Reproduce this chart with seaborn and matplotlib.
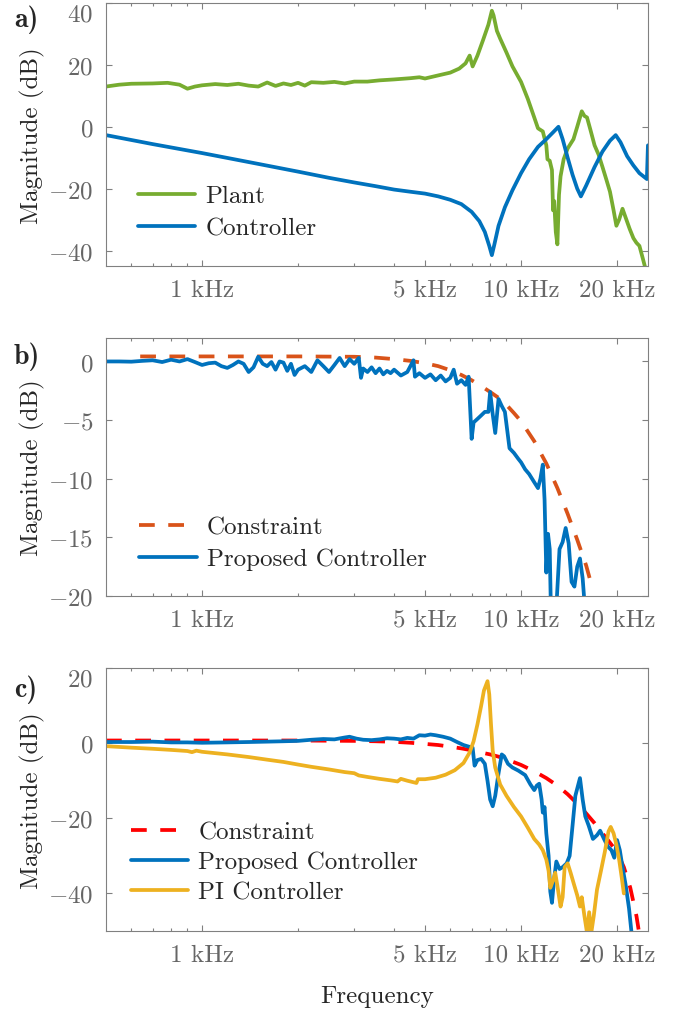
import numpy as np
import pandas as pd
import seaborn as sns
import matplotlib.pyplot as plt

# ---------------- a) plant vs controller ----------------
plant_f = [500, 550, 600, 700, 780, 850, 900, 950, 1000, 1100, 1200, 1300, 1400, 1500,
           1600, 1700, 1800, 1900, 2000, 2100, 2200, 2400, 2600, 2800, 3000, 3300, 3600,
           4000, 4500, 4800, 5000, 5500, 6000, 6400, 6700, 6900, 7050, 7300, 7600, 7900,
           8100, 8200, 8400, 8600, 9000, 9400, 10000, 10500, 11000, 11300, 11700, 12000,
           12100, 12300, 12500, 12600, 12700, 12850, 13000, 13150, 13300, 13600, 14000,
           14600, 15000, 15500, 15800, 16100, 16500, 17000, 17500, 18000, 18500, 19000,
           19500, 19900, 20300, 20800, 21300, 21900, 22500, 23000, 23500, 24000, 24500]
plant_db = [13.0, 13.6, 13.9, 14.0, 14.2, 13.6, 12.3, 13.0, 13.4, 13.8, 13.5, 13.9, 13.3, 13.0,
            14.3, 13.2, 14.0, 13.5, 14.2, 13.3, 14.4, 14.2, 14.5, 14.0, 14.6, 14.6, 15.0,
            15.3, 15.7, 16.0, 15.6, 16.6, 17.5, 18.8, 20.5, 23.0, 19.5, 23.0, 28.0, 33.0,
            37.5, 36.0, 31.0, 28.5, 24.0, 19.5, 14.5, 9.0, 3.0, -0.5, -1.5, -6.0,
            -10.5, -11.0, -14.0, -27.0, -24.0, -34.0, -38.0, -22.0, -16.0, -10.5, -7.0,
            -4.0, 0.0, 5.0, 3.5, 3.0, -1.0, -6.0, -9.0, -13.0, -17.0, -21.0,
            -27.0, -32.0, -30.0, -26.5, -29.5, -33.0, -36.0, -37.5, -38.5, -42.0, -45.5]

ctrl_f = [500, 700, 1000, 1500, 2000, 2500, 3000, 3500, 4000, 4500, 5000, 5500, 6000, 6500,
          7000, 7400, 7700, 7950, 8100, 8250, 8500, 8900, 9400, 10000, 10600, 11300, 12000,
          12600, 13100, 13500, 14000, 14500, 15000, 15400, 16000, 17000, 18000, 19000,
          19800, 20500, 21500, 22500, 23500, 24800, 24990]
ctrl_db = [-2.7, -5.6, -8.5, -12.0, -14.5, -16.5, -18.0, -19.2, -20.3, -21.0, -21.6, -22.5,
           -23.6, -25.0, -27.5, -30.5, -34.0, -38.5, -41.5, -38.0, -32.0, -26.0, -20.5, -15.0,
           -10.5, -6.5, -4.0, -1.8, 0.0, -4.0, -10.0, -15.5, -20.0, -22.5, -19.0, -13.0,
           -8.0, -4.5, -2.7, -5.0, -9.5, -12.5, -15.0, -16.9, -6.0]

# ---------------- b) constraint vs proposed ----------------
cons_b_f = [640, 1000, 2000, 3000, 3500, 4000, 4500, 5000, 5500, 6000, 6500, 7000, 7500,
            8000, 8500, 9000, 9500, 10000, 11000, 12000, 13000, 14000, 15000, 16000, 16800]
cons_b_db = [0.43, 0.43, 0.43, 0.4, 0.33, 0.2, 0.05, -0.15, -0.4, -0.75, -1.15, -1.6, -2.1,
             -2.6, -3.1, -3.7, -4.4, -5.1, -6.8, -8.7, -10.8, -13.0, -15.2, -17.4, -19.5]

prop_b_f = [500, 550, 600, 650, 700, 750, 800, 850, 900, 950, 1000, 1050, 1100, 1150, 1200,
            1250, 1300, 1350, 1400, 1450, 1500, 1550, 1600, 1650, 1700, 1750, 1800, 1850,
            1900, 1950, 2000, 2100, 2200, 2300, 2400, 2500, 2600, 2700, 2800, 2900, 3000,
            3100, 3150, 3200, 3300, 3400, 3500, 3600, 3700, 3800, 3900, 4000, 4200, 4400,
            4600, 4650, 4800, 5000, 5200, 5400, 5600, 5800, 6000, 6150, 6300, 6500, 6700,
            6850, 7000, 7100, 7300, 7500, 7700, 7900, 8000, 8150, 8300, 8500, 8700, 8900,
            9200, 9500, 9800, 10000, 10300, 10600, 11000, 11300, 11500, 11700, 11850, 12000,
            12150, 12300, 12400, 12900, 13200, 13500, 13800, 14100, 14400, 14700, 15000,
            15300, 15600, 15800]
prop_b_db = [0.0, 0.0, -0.02, 0.05, 0.1, -0.05, 0.15, 0.0, 0.2, -0.05, -0.3, -0.15, -0.1, -0.4,
             -0.55, -0.3, 0.0, -0.2, -0.9, -0.5, 0.4, -0.2, -0.4, -0.05, -0.7, 0.0, -0.1, -0.8,
             -0.2, -1.15, -0.7, -0.4, -0.9, 0.1, -0.4, -0.9, -0.3, 0.3, -0.4, 0.2, -0.2,
             0.3, -1.4, -0.6, -0.9, -0.5, -1.0, -0.6, -1.1, -0.8, -1.0, -0.7, -1.2, -0.9,
             0.1, -1.3, -1.0, -1.4, -1.1, -1.6, -1.2, -1.7, -1.4, -0.7, -1.9, -1.6, -2.0,
             -1.3, -6.6, -5.2, -4.9, -4.6, -4.3, -4.3, -2.6, -4.5, -6.1, -3.2, -3.8, -4.3,
             -7.4, -7.8, -8.3, -8.6, -9.2, -9.6, -10.3, -10.8, -10.0, -8.8, -11.8, -18.0,
             -14.7, -16.0, -21.0, -21.0, -16.0, -15.4, -14.2, -15.5, -18.8, -19.2, -17.5,
             -16.8, -18.5, -20.5]

# ---------------- c) constraint, proposed, PI ----------------
cons_c_f = [500, 1000, 2000, 3000, 3500, 4000, 4500, 5000, 5500, 6000, 6500, 7000, 7500,
            8000, 8500, 9000, 10000, 11000, 12000, 13000, 14000, 15000, 16000, 17000, 18000,
            19000, 20000, 21000, 22000, 23000, 23500]
cons_c_db = [0.7, 0.7, 0.7, 0.6, 0.5, 0.35, 0.1, -0.2, -0.5, -0.95, -1.4, -1.9, -2.5,
             -3.0, -3.6, -4.3, -5.8, -7.5, -9.3, -11.3, -13.6, -16.1, -18.7, -21.3, -24.0,
             -26.5, -29.0, -33.0, -38.5, -46.0, -51.0]

prop_c_f = [500, 600, 700, 800, 900, 1000, 1200, 1400, 1600, 1800, 2000, 2200, 2400, 2600,
            2800, 2900, 3050, 3200, 3400, 3600, 3800, 4000, 4200, 4400, 4600, 4800, 5000,
            5200, 5400, 5700, 6000, 6300, 6600, 6900, 7050, 7150, 7300, 7500, 7700, 7850,
            8000, 8150, 8300, 8500, 8700, 8850, 9100, 9400, 9800, 10300, 10700, 11000,
            11200, 11400, 11600, 11700, 11850, 12000, 12200, 12350, 12500, 12700, 12900,
            13200, 13500, 13900, 14200, 14500, 14800, 15300, 15600, 15900, 16300, 16800,
            17300, 17700, 18200, 18700, 19200, 19600, 20000, 20400, 20800, 21300, 21800,
            22200]
prop_c_db = [0.3, 0.3, 0.4, 0.2, 0.2, 0.1, 0.2, 0.3, 0.4, 0.5, 0.6, 0.9, 1.1, 1.0,
             1.5, 1.7, 1.2, 0.9, 0.8, 1.0, 1.3, 1.2, 1.0, 1.4, 1.2, 2.1, 2.0,
             2.3, 2.1, 1.7, 1.2, 0.3, -0.5, -1.0, -1.2, -6.0, -4.5, -4.2, -5.5, -10.0,
             -15.0, -16.8, -14.0, -8.0, -3.0, -3.5, -5.5, -6.5, -7.3, -8.5, -11.0, -12.5,
             -11.3, -10.8, -15.0, -18.5, -17.0, -24.0, -30.0, -39.5, -42.5, -36.0, -31.5,
             -33.5, -33.0, -32.0, -30.0, -22.0, -14.0, -9.3, -15.0, -19.5, -22.0, -25.5,
             -24.5, -23.3, -25.5, -27.5, -28.5, -30.5, -25.8, -28.5, -33.0, -38.0, -44.0,
             -50.5]

pi_f = [500, 600, 700, 800, 900, 930, 960, 1000, 1200, 1400, 1600, 1800, 2000, 2200, 2500,
        2800, 3000, 3100, 3300, 3600, 3900, 4100, 4200, 4400, 4700, 4750, 5000, 5400, 5800,
        6200, 6600, 6900, 7100, 7300, 7500, 7650, 7850, 7950, 8050, 8150, 8300, 8600, 9000,
        9500, 10000, 10500, 11000, 11400, 11700, 12000, 12200, 12350, 12600, 12800, 13000,
        13300, 13500, 13700, 14000, 14300, 14700, 15000, 15300, 15500, 15800, 16100, 16350,
        16600, 16900, 17300, 17800, 18300, 18800, 19100, 19500, 19900, 20300, 20700, 21000]
pi_db = [-0.8, -1.2, -1.5, -1.8, -2.1, -2.4, -2.0, -2.3, -3.0, -3.7, -4.4, -5.0, -5.7, -6.3, -7.0,
         -7.7, -8.0, -8.6, -9.0, -9.5, -9.9, -10.2, -9.5, -10.0, -10.6, -9.6, -9.6, -9.2, -8.4,
         -7.2, -5.3, -2.5, 0.5, 5.0, 10.0, 14.0, 16.5, 13.0, 5.0, -2.0, -6.5, -11.0, -14.0,
         -17.0, -19.5, -22.5, -25.5, -27.0, -28.5, -31.0, -34.0, -38.5, -36.5, -34.5, -38.0,
         -43.5, -41.0, -33.0, -32.0, -34.5, -38.0, -40.5, -43.5, -41.0, -46.0, -50.5, -45.0,
         -50.5, -46.0, -39.0, -34.0, -29.0, -23.5, -22.3, -24.0, -27.0, -31.0, -36.0, -40.0]

# ticks
freq_ticks = [1000, 5000, 10000, 20000]
freq_labels = ["1 kHz", "5 kHz", "10 kHz", "20 kHz"]
freq_minor = [600, 700, 800, 900, 2000, 3000, 4000, 6000, 7000, 8000, 9000]
yticks_a = [-40, -20, 0, 20, 40]
yticks_b = [-20, -15, -10, -5, 0]
yticks_c = [-40, -20, 0, 20]

GREEN = "#77AC30"
BLUE = "#0072BD"
ORANGE = "#D95319"
YELLOW = "#EDB120"
RED = "#FF0000"

sns.set_style("ticks")
plt.rcParams.update({
    "font.family": "serif",
    "font.serif": ["cmr10"],
    "mathtext.fontset": "cm",
    "axes.unicode_minus": True,
    "axes.formatter.use_mathtext": True,
})

fig = plt.figure(figsize=(6.81, 10.12), dpi=100)
L, W = 106 / 681, 542 / 681
ax_a = fig.add_axes([L, 1 - 267 / 1012, W, 263 / 1012])
ax_b = fig.add_axes([L, 1 - 597 / 1012, W, 258 / 1012])
ax_c = fig.add_axes([L, 1 - 932 / 1012, W, 263 / 1012])

LW = 2.7
DASH = (0, (4.2, 3.6))


def curve(ax, f, db, label, color, ls="-"):
    df = pd.DataFrame({"Frequency": f, "Magnitude": db})
    sns.lineplot(data=df, x="Frequency", y="Magnitude", ax=ax, label=label,
                 color=color, linewidth=LW, linestyle=ls, estimator=None)


for ax in (ax_a, ax_b, ax_c):
    ax.set_xscale("log")

curve(ax_a, plant_f, plant_db, "Plant", GREEN)
curve(ax_a, ctrl_f, ctrl_db, "Controller", BLUE)

curve(ax_b, cons_b_f, cons_b_db, "Constraint", ORANGE, DASH)
curve(ax_b, prop_b_f, prop_b_db, "Proposed Controller", BLUE)

curve(ax_c, cons_c_f, cons_c_db, "Constraint", RED, DASH)
curve(ax_c, prop_c_f, prop_c_db, "Proposed Controller", BLUE)
curve(ax_c, pi_f, pi_db, "PI Controller", YELLOW)


def style(ax, yticks, ylim, top_shift):
    ax.set_xlim(500, 25000)
    ax.set_ylim(*ylim)
    ax.set_xticks(freq_ticks, labels=freq_labels)
    ax.set_xticks(freq_minor, minor=True)
    ax.set_xticklabels([], minor=True)
    ax.set_yticks(yticks, labels=[f"${v}$" for v in yticks])
    ax.tick_params(axis="both", which="both", direction="in", top=True, right=True,
                   color="#808080", labelcolor="#666666", labelsize=18, width=0.8)
    ax.tick_params(axis="both", which="major", length=4.5)
    ax.tick_params(axis="both", which="minor", length=2.5)
    ax.tick_params(axis="x", pad=9)
    ax.tick_params(axis="y", pad=9)
    for s in ax.spines.values():
        s.set_color("#808080")
        s.set_linewidth(0.8)
    ax.set_xlabel("")
    ax.set_ylabel("Magnitude (dB)", fontsize=18, labelpad=2)
    if top_shift:
        lab = ax.get_yticklabels()[-1]
        lab.set_va("top")


style(ax_a, yticks_a, (-45, 40), True)
style(ax_b, yticks_b, (-20, 2), False)
style(ax_c, yticks_c, (-50, 20), True)
ax_c.set_xlabel("Frequency", fontsize=18, labelpad=14)

leg_kw = dict(frameon=False, fontsize=18, handlelength=2.3, handletextpad=0.4,
              borderpad=0, borderaxespad=0, loc="center left")
ax_a.legend(bbox_to_anchor=(0.059, 0.205), labelspacing=0.38, **leg_kw)
ax_b.legend(bbox_to_anchor=(0.061, 0.205), labelspacing=0.38, **leg_kw)
ax_c.legend(bbox_to_anchor=(0.046, 0.262), labelspacing=0.3, **leg_kw)

for txt, y in (("a)", 20), ("b)", 357), ("c)", 690)):
    fig.text(14 / 681, 1 - y / 1012, txt, fontsize=20, fontweight="bold",
             family="cmb10", va="center", ha="left")

fig.savefig("out.png", dpi=100)
